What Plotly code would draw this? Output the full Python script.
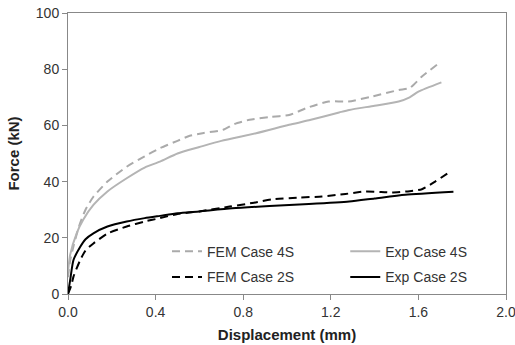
import plotly.graph_objects as go

# ---- data ----
fem4_x = [0.0, 0.01, 0.025, 0.05, 0.08, 0.116, 0.18, 0.268, 0.35, 0.42, 0.5, 0.556, 0.62, 0.707,
          0.76, 0.829, 0.92, 1.01, 1.086, 1.19, 1.28, 1.389, 1.51, 1.56, 1.616, 1.685]
fem4_y = [6, 12, 17, 24, 30, 34.6, 40, 45.3, 49, 51.9, 54.5, 56.3, 57.3, 58.4,
          60.5, 62, 63, 63.7, 66.1, 68.5, 68.5, 70.3, 72.6, 73.3, 77.4, 81.6]

exp4_x = [0.0, 0.01, 0.04, 0.07, 0.116, 0.18, 0.268, 0.35, 0.42, 0.5, 0.6, 0.7, 0.859,
          1.01, 1.1, 1.238, 1.284, 1.4, 1.51, 1.56, 1.6, 1.705]
exp4_y = [8, 14, 21.7, 26.5, 31.7, 36.5, 41.2, 45, 47.1, 50.0, 52.3, 54.5, 57.2,
          60.2, 61.8, 64.6, 65.5, 67, 68.5, 70, 72, 75.3]

fem2_x = [0.0, 0.015, 0.025, 0.056, 0.08, 0.116, 0.18, 0.268, 0.35, 0.42, 0.5, 0.6, 0.738,
          0.85, 0.935, 1.05, 1.16, 1.267, 1.359, 1.43, 1.48, 1.56, 1.616, 1.677, 1.738]
fem2_y = [0, 3, 6.2, 12.1, 15.5, 18, 21.5, 24, 25.8, 27, 28.5, 29.4, 31.1,
          32.5, 33.7, 34.3, 34.7, 35.6, 36.5, 36.3, 36.1, 36.6, 37.3, 40, 43.2]

exp2_x = [0.0, 0.01, 0.025, 0.056, 0.08, 0.116, 0.18, 0.268, 0.35, 0.42, 0.5, 0.6, 0.75,
          0.92, 1.1, 1.284, 1.4, 1.54, 1.76]
exp2_y = [0, 5, 12.1, 16.8, 19.5, 21.6, 24, 25.8, 27, 27.8, 28.7, 29.4, 30.5,
          31.3, 32, 32.9, 34, 35.3, 36.4]

x_ticks = [0.0, 0.4, 0.8, 1.2, 1.6, 2.0]
y_ticks = [0, 20, 40, 60, 80, 100]

FONT = "Arial, Liberation Sans, sans-serif"
LIGHT = "#aaaaaa"
DASH = "8px,5px"

fig = go.Figure()
fig.add_trace(go.Scatter(x=fem4_x, y=fem4_y, mode="lines", name="FEM Case 4S",
                         line=dict(color=LIGHT, width=2, dash=DASH, shape="spline", smoothing=0.6),
                         legend="legend"))
fig.add_trace(go.Scatter(x=exp4_x, y=exp4_y, mode="lines", name="Exp Case 4S",
                         line=dict(color="#b4b4b4", width=2, shape="spline", smoothing=0.6),
                         legend="legend2"))
fig.add_trace(go.Scatter(x=fem2_x, y=fem2_y, mode="lines", name="FEM Case 2S",
                         line=dict(color="#000000", width=2, dash=DASH, shape="spline", smoothing=0.6),
                         legend="legend3"))
fig.add_trace(go.Scatter(x=exp2_x, y=exp2_y, mode="lines", name="Exp Case 2S",
                         line=dict(color="#000000", width=2, shape="spline", smoothing=0.6),
                         legend="legend4"))

axis_common = dict(showgrid=False, zeroline=False, showline=True, linecolor="#888888",
                   linewidth=1, mirror=True, ticks="outside", ticklen=5, tickcolor="#888888",
                   ticklabeloverflow="allow",
                   tickfont=dict(family=FONT, size=14, color="#333333"))

leg_common = dict(orientation="v", xanchor="left", yanchor="middle",
                  bgcolor="rgba(0,0,0,0)", borderwidth=0,
                  font=dict(family=FONT, size=14, color="#333333"))

col1 = 0.226
col2 = 0.633
row1 = 0.1506
row2 = 0.0595

fig.update_layout(
    width=515, height=345,
    margin=dict(l=68, r=9, t=13, b=51),
    paper_bgcolor="white", plot_bgcolor="white",
    xaxis=dict(range=[0, 2.0], tickvals=x_ticks, ticktext=[f"{v:.1f}" for v in x_ticks],
               title=dict(text="<b>Displacement (mm)</b>", font=dict(family=FONT, size=15, color="#222222"),
                          standoff=10),
               automargin=False,
               **axis_common),
    yaxis=dict(range=[0, 100], tickvals=y_ticks,
               title=dict(text="<b>Force (kN)</b>", font=dict(family=FONT, size=15, color="#222222"),
                          standoff=12),
               automargin=False,
               **axis_common),
    legend=dict(x=col1, y=row1, **leg_common),
    legend2=dict(x=col2, y=row1, **leg_common),
    legend3=dict(x=col1, y=row2, **leg_common),
    legend4=dict(x=col2, y=row2, **leg_common),
    showlegend=True,
)

fig.write_html("out.html")
